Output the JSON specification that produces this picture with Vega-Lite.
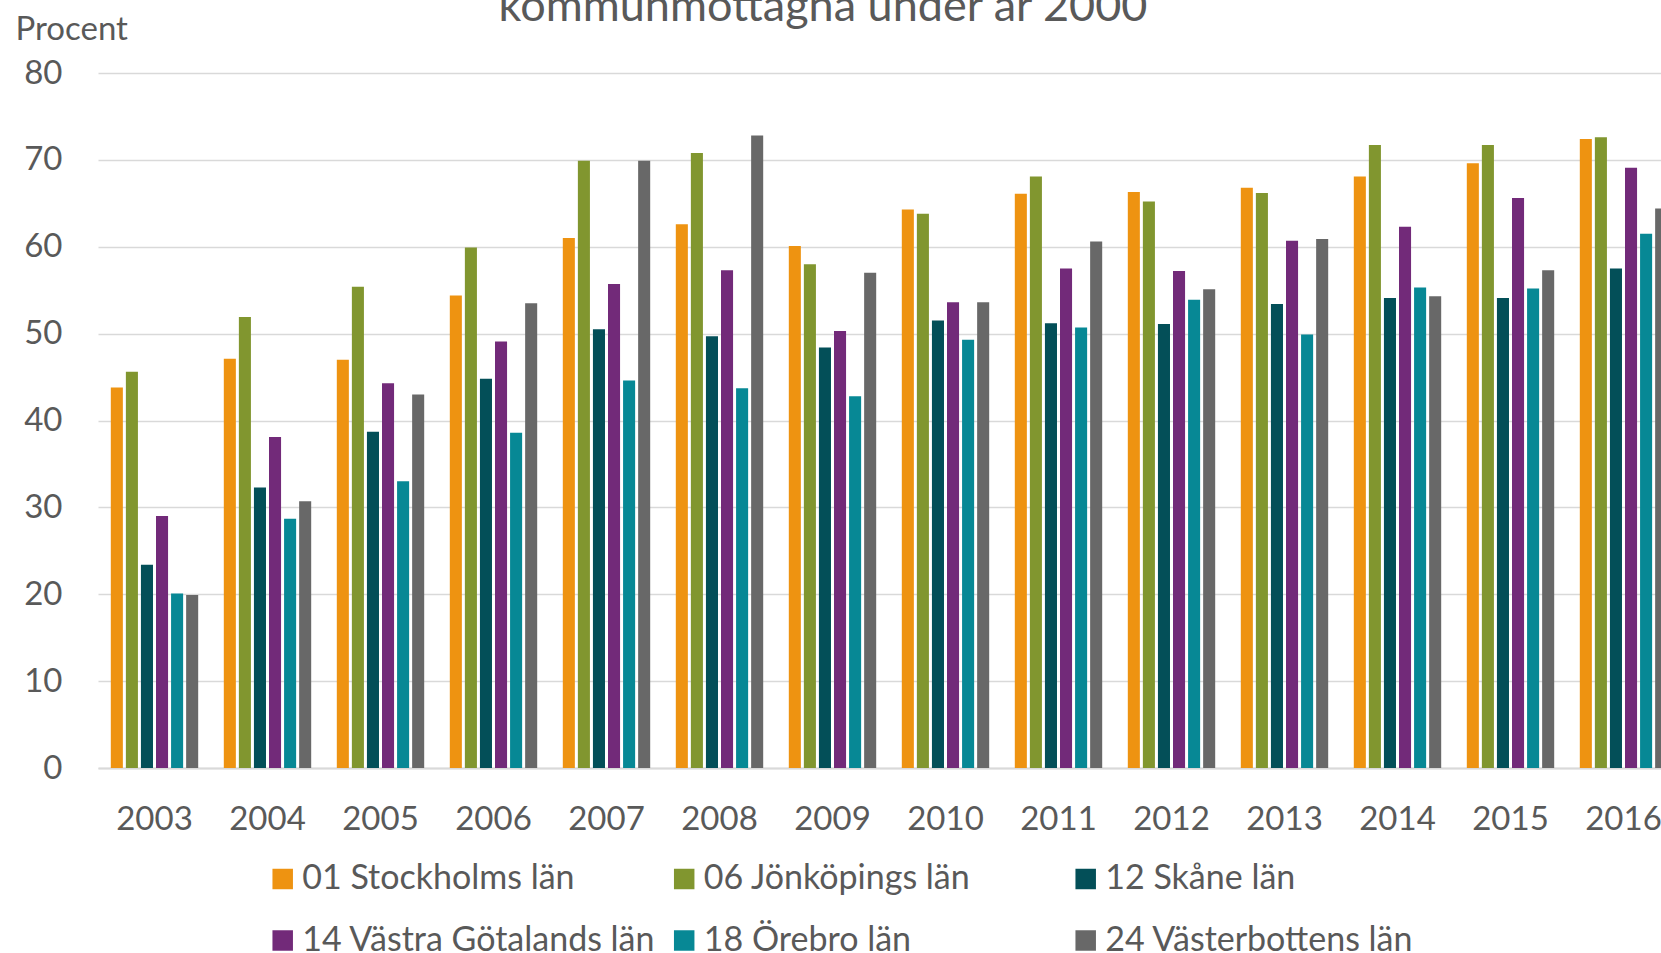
{
  "$schema": "https://vega.github.io/schema/vega-lite/v6.json",
  "autosize": {"type": "none"},
  "padding": {"left": 98, "top": 73, "right": 0, "bottom": 185},
  "width": 1582,
  "height": 695,
  "background": "white",
  "title": {
    "text": "kommunmottagna under år 2000",
    "frame": "group",
    "anchor": "middle",
    "dx": -66,
    "offset": -17,
    "fontSize": 45,
    "font": "Lato",
    "fontWeight": "normal",
    "color": "#595959"
  },
  "data": {
    "values": [
      {"year": "2003", "series": "01 Stockholms län", "value": 43.8},
      {"year": "2003", "series": "06 Jönköpings län", "value": 45.6},
      {"year": "2003", "series": "12 Skåne län", "value": 23.4},
      {"year": "2003", "series": "14 Västra Götalands län", "value": 29.0},
      {"year": "2003", "series": "18 Örebro län", "value": 20.1},
      {"year": "2003", "series": "24 Västerbottens län", "value": 19.9},
      {"year": "2004", "series": "01 Stockholms län", "value": 47.1},
      {"year": "2004", "series": "06 Jönköpings län", "value": 51.9},
      {"year": "2004", "series": "12 Skåne län", "value": 32.3},
      {"year": "2004", "series": "14 Västra Götalands län", "value": 38.1},
      {"year": "2004", "series": "18 Örebro län", "value": 28.7},
      {"year": "2004", "series": "24 Västerbottens län", "value": 30.7},
      {"year": "2005", "series": "01 Stockholms län", "value": 47.0},
      {"year": "2005", "series": "06 Jönköpings län", "value": 55.4},
      {"year": "2005", "series": "12 Skåne län", "value": 38.7},
      {"year": "2005", "series": "14 Västra Götalands län", "value": 44.3},
      {"year": "2005", "series": "18 Örebro län", "value": 33.0},
      {"year": "2005", "series": "24 Västerbottens län", "value": 43.0},
      {"year": "2006", "series": "01 Stockholms län", "value": 54.4},
      {"year": "2006", "series": "06 Jönköpings län", "value": 59.9},
      {"year": "2006", "series": "12 Skåne län", "value": 44.8},
      {"year": "2006", "series": "14 Västra Götalands län", "value": 49.1},
      {"year": "2006", "series": "18 Örebro län", "value": 38.6},
      {"year": "2006", "series": "24 Västerbottens län", "value": 53.5},
      {"year": "2007", "series": "01 Stockholms län", "value": 61.0},
      {"year": "2007", "series": "06 Jönköpings län", "value": 69.9},
      {"year": "2007", "series": "12 Skåne län", "value": 50.5},
      {"year": "2007", "series": "14 Västra Götalands län", "value": 55.7},
      {"year": "2007", "series": "18 Örebro län", "value": 44.6},
      {"year": "2007", "series": "24 Västerbottens län", "value": 69.9},
      {"year": "2008", "series": "01 Stockholms län", "value": 62.6},
      {"year": "2008", "series": "06 Jönköpings län", "value": 70.8},
      {"year": "2008", "series": "12 Skåne län", "value": 49.7},
      {"year": "2008", "series": "14 Västra Götalands län", "value": 57.3},
      {"year": "2008", "series": "18 Örebro län", "value": 43.7},
      {"year": "2008", "series": "24 Västerbottens län", "value": 72.8},
      {"year": "2009", "series": "01 Stockholms län", "value": 60.1},
      {"year": "2009", "series": "06 Jönköpings län", "value": 58.0},
      {"year": "2009", "series": "12 Skåne län", "value": 48.4},
      {"year": "2009", "series": "14 Västra Götalands län", "value": 50.3},
      {"year": "2009", "series": "18 Örebro län", "value": 42.8},
      {"year": "2009", "series": "24 Västerbottens län", "value": 57.0},
      {"year": "2010", "series": "01 Stockholms län", "value": 64.3},
      {"year": "2010", "series": "06 Jönköpings län", "value": 63.8},
      {"year": "2010", "series": "12 Skåne län", "value": 51.5},
      {"year": "2010", "series": "14 Västra Götalands län", "value": 53.6},
      {"year": "2010", "series": "18 Örebro län", "value": 49.3},
      {"year": "2010", "series": "24 Västerbottens län", "value": 53.6},
      {"year": "2011", "series": "01 Stockholms län", "value": 66.1},
      {"year": "2011", "series": "06 Jönköpings län", "value": 68.1},
      {"year": "2011", "series": "12 Skåne län", "value": 51.2},
      {"year": "2011", "series": "14 Västra Götalands län", "value": 57.5},
      {"year": "2011", "series": "18 Örebro län", "value": 50.7},
      {"year": "2011", "series": "24 Västerbottens län", "value": 60.6},
      {"year": "2012", "series": "01 Stockholms län", "value": 66.3},
      {"year": "2012", "series": "06 Jönköpings län", "value": 65.2},
      {"year": "2012", "series": "12 Skåne län", "value": 51.1},
      {"year": "2012", "series": "14 Västra Götalands län", "value": 57.2},
      {"year": "2012", "series": "18 Örebro län", "value": 53.9},
      {"year": "2012", "series": "24 Västerbottens län", "value": 55.1},
      {"year": "2013", "series": "01 Stockholms län", "value": 66.8},
      {"year": "2013", "series": "06 Jönköpings län", "value": 66.2},
      {"year": "2013", "series": "12 Skåne län", "value": 53.4},
      {"year": "2013", "series": "14 Västra Götalands län", "value": 60.7},
      {"year": "2013", "series": "18 Örebro län", "value": 49.9},
      {"year": "2013", "series": "24 Västerbottens län", "value": 60.9},
      {"year": "2014", "series": "01 Stockholms län", "value": 68.1},
      {"year": "2014", "series": "06 Jönköpings län", "value": 71.7},
      {"year": "2014", "series": "12 Skåne län", "value": 54.1},
      {"year": "2014", "series": "14 Västra Götalands län", "value": 62.3},
      {"year": "2014", "series": "18 Örebro län", "value": 55.3},
      {"year": "2014", "series": "24 Västerbottens län", "value": 54.3},
      {"year": "2015", "series": "01 Stockholms län", "value": 69.6},
      {"year": "2015", "series": "06 Jönköpings län", "value": 71.7},
      {"year": "2015", "series": "12 Skåne län", "value": 54.1},
      {"year": "2015", "series": "14 Västra Götalands län", "value": 65.6},
      {"year": "2015", "series": "18 Örebro län", "value": 55.2},
      {"year": "2015", "series": "24 Västerbottens län", "value": 57.3},
      {"year": "2016", "series": "01 Stockholms län", "value": 72.4},
      {"year": "2016", "series": "06 Jönköpings län", "value": 72.6},
      {"year": "2016", "series": "12 Skåne län", "value": 57.5},
      {"year": "2016", "series": "14 Västra Götalands län", "value": 69.1},
      {"year": "2016", "series": "18 Örebro län", "value": 61.5},
      {"year": "2016", "series": "24 Västerbottens län", "value": 64.4}
    ]
  },
  "mark": {"type": "bar"},
  "encoding": {
    "x": {
      "field": "year",
      "type": "ordinal",
      "scale": {"paddingInner": 0.2, "paddingOuter": 0.1},
      "axis": {
        "title": null,
        "labelAngle": 0,
        "labelFont": "Lato",
        "labelFontSize": 33,
        "labelColor": "#595959",
        "labelPadding": 35,
        "ticks": false,
        "tickSize": 0,
        "domainColor": "#D9D9D9",
        "domainWidth": 2,
        "grid": false
      }
    },
    "xOffset": {
      "field": "series",
      "type": "nominal",
      "scale": {"paddingInner": 0.2, "paddingOuter": 0.1}
    },
    "y": {
      "field": "value",
      "type": "quantitative",
      "scale": {"domain": [0, 80], "nice": false},
      "axis": {
        "values": [0, 10, 20, 30, 40, 50, 60, 70, 80],
        "title": "Procent",
        "titleAngle": 0,
        "titleAlign": "left",
        "titleBaseline": "alphabetic",
        "titleX": -83,
        "titleY": -34,
        "titleFont": "Lato",
        "titleFontSize": 33,
        "titleFontWeight": "normal",
        "titleColor": "#595959",
        "labelFont": "Lato",
        "labelFontSize": 33,
        "labelColor": "#595959",
        "labelPadding": 36,
        "ticks": false,
        "tickSize": 0,
        "domain": false,
        "gridColor": "#D9D9D9",
        "gridWidth": 1.3
      }
    },
    "color": {
      "field": "series",
      "type": "nominal",
      "scale": {
        "domain": ["01 Stockholms län", "06 Jönköpings län", "12 Skåne län", "14 Västra Götalands län", "18 Örebro län", "24 Västerbottens län"],
        "range": ["#EE9311", "#81962F", "#034F58", "#722A79", "#078895", "#686868"]
      },
      "legend": {
        "title": null,
        "orient": "none",
        "legendX": 167.7,
        "legendY": 789,
        "direction": "horizontal",
        "columns": 3,
        "gridAlign": "all",
        "columnPadding": 10.5,
        "rowPadding": 27.5,
        "padding": 0,
        "symbolType": "square",
        "symbolSize": 420,
        "symbolStrokeWidth": 0,
        "labelFont": "Lato",
        "labelFontSize": 34,
        "labelColor": "#595959",
        "labelOffset": 2.6,
        "labelLimit": 700
      }
    }
  },
  "config": {"view": {"stroke": null}, "font": "Lato"}
}
